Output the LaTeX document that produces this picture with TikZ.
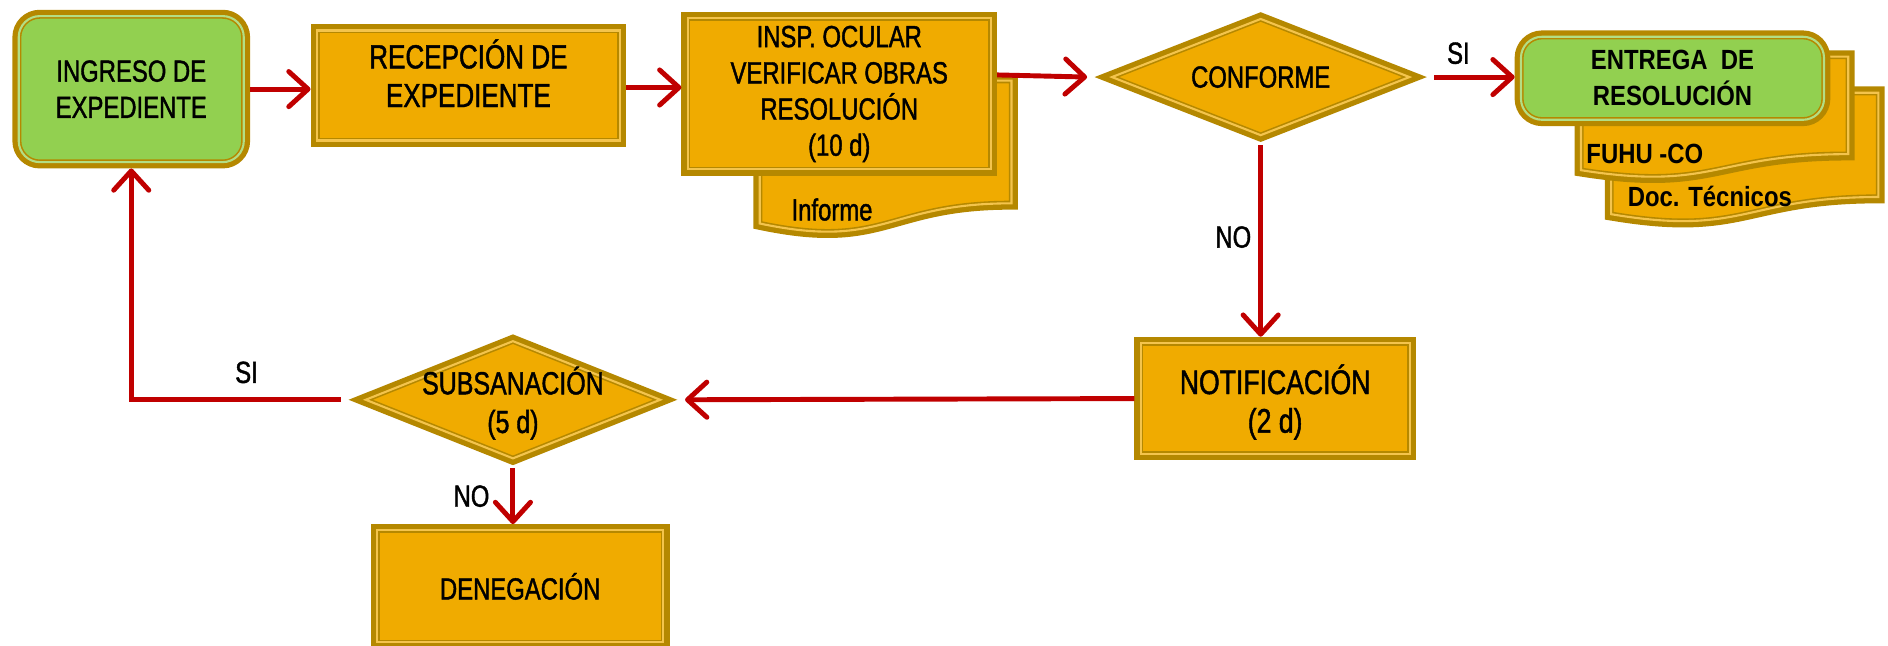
\documentclass[tikz,border=0pt]{standalone}
\usepackage{fontspec}
\setmainfont{Liberation Sans}
\newfontfamily\narrowfont[FakeStretch=0.78, FakeBold=1.3]{Liberation Sans}
\newfontfamily\docfont[FakeStretch=0.86]{Liberation Sans}
\usetikzlibrary{arrows.meta, shapes.geometric, calc}
\definecolor{verdecaja}{HTML}{92D050}
\definecolor{naranjacaja}{HTML}{F0AB00}
\definecolor{borde}{HTML}{B58800}
\definecolor{flecha}{HTML}{C00000}
\newcommand{\fuentecaja}{\narrowfont\fontsize{8.7}{10.3}\selectfont}
\newcommand{\fuentegrande}[1]{\narrowfont\fontsize{#1}{11}\selectfont}
\newcommand{\fuenteancha}{\docfont\bfseries\fontsize{7.9}{10.2}\selectfont}
\tikzset{
  caja/.style={
    rectangle,
    draw=borde,
    line width=3.6pt,
    outer sep=1.8pt,
    postaction={fill=#1, draw=borde, line width=0.45pt,
      double=#1!70!white, double distance=0.6pt},
    align=center,
    inner xsep=2pt,
    inner ysep=0pt,
    font=\fuentecaja
  },
  caja/.default=naranjacaja,
  diamante/.style={
    caja,
    diamond,
    aspect=2.6,
    inner xsep=0pt,
    inner ysep=-3pt,
    outer xsep=5pt,
    outer ysep=2pt
  },
  documento/.style={
    draw=borde,
    line width=3.6pt,
    postaction={fill=naranjacaja, draw=borde, line width=0.45pt,
      double=naranjacaja!70!white, double distance=0.6pt}
  },
  flujo/.style={
    draw=flecha,
    line width=1.4pt,
    -{Straight Barb[length=5.5pt, width=10pt, round]}
  },
  etiqueta/.style={
    font=\fuentecaja,
    inner sep=1pt
  }
}
% documento con borde inferior ondulado: x, y, ancho, alto
\newcommand{\docpath}[4]{%
  \draw[documento] (#1,#2) -- ({#1+#3},#2) -- ({#1+#3},{#2+0.802*#4})
    .. controls ({#1+0.5*#3},{#2+0.802*#4}) and ({#1+0.5*#3},{#2+1.1075*#4}) ..
    (#1,{#2+0.934*#4}) -- cycle;}

\begin{document}
\begin{tikzpicture}[x=0.012041cm, y=-0.012041cm]
  \useasboundingbox (0,0) rectangle (1568,536);

  % documentos de apoyo
  \docpath{1338}{77}{222}{108}
  \node[etiqueta, font=\fuenteancha] (doctec) at (1420,163) {Doc. Técnicos};
  \docpath{1313}{47}{222}{101}
  \node[etiqueta, font=\fuenteancha] (fuhu) at (1366,128) {FUHU -CO};
  \docpath{631}{67}{209}{127}
  \node[etiqueta] (informe) at (691,174) {Informe};

  % fila superior
  \node[caja=verdecaja, rounded corners=6pt, minimum width=2.25cm, minimum height=1.46cm]
    (ingreso) at (109,74) {INGRESO DE\\EXPEDIENTE};
  \node[caja, font=\fuentegrande{9.5}, minimum width=3.03cm, minimum height=1.10cm, text depth=7pt]
    (recepcion) at (389,71) {RECEPCIÓN DE\\EXPEDIENTE};
  \node[caja, minimum width=3.03cm, minimum height=1.51cm]
    (insp) at (697,78) {INSP. OCULAR\\VERIFICAR OBRAS\\RESOLUCIÓN\\(10 d)};
  \node[diamante, minimum width=3.12cm, minimum height=1.22cm]
    (conforme) at (1047,64) {CONFORME};
  \node[caja=verdecaja, rounded corners=6pt, font=\fuenteancha, minimum width=3.03cm, minimum height=0.83cm]
    (entrega) at (1389,65) {ENTREGA\ \ DE\\RESOLUCIÓN};

  % fila inferior
  \node[caja, font=\fuentegrande{9.7}, minimum width=2.69cm, minimum height=1.11cm, text depth=-1pt]
    (notificacion) at (1059,331) {NOTIFICACIÓN\\(2 d)};
  \node[diamante, font=\fuentegrande{9.1}, minimum width=3.09cm, minimum height=1.23cm, text depth=-3pt]
    (subsanacion) at (426,332) {SUBSANACIÓN\\(5 d)};
  \node[caja, minimum width=2.86cm, minimum height=1.12cm]
    (denegacion) at (432,487) {DENEGACIÓN};

  % conectores
  \draw[flujo] (ingreso.east) -- (ingreso.east -| recepcion.west);
  \draw[flujo] ([yshift=-0.02cm]recepcion.east) -- ([yshift=-0.02cm]recepcion.east -| insp.west);
  \draw[flujo] ([yshift=0.19cm]insp.east) -- (conforme.west);
  \draw[flujo] (conforme.east) -- (conforme.east -| entrega.west)
    node[etiqueta, pos=0.3, above=2pt] (si1) {SI};
  \draw[flujo] (conforme.south) -- (conforme.south |- notificacion.north)
    node[etiqueta, pos=0.48, left=1pt] (no1) {NO};
  \draw[flujo] (notificacion.west) -- (subsanacion.east);
  \draw[flujo] (subsanacion.west) -| (ingreso.south)
    node[etiqueta, pos=0.225, above=3pt] (si2) {SI};
  \draw[flujo] (subsanacion.south) -- (subsanacion.south |- denegacion.north)
    node[etiqueta, pos=0.5, left=5pt] (no2) {NO};
\end{tikzpicture}
\end{document}
